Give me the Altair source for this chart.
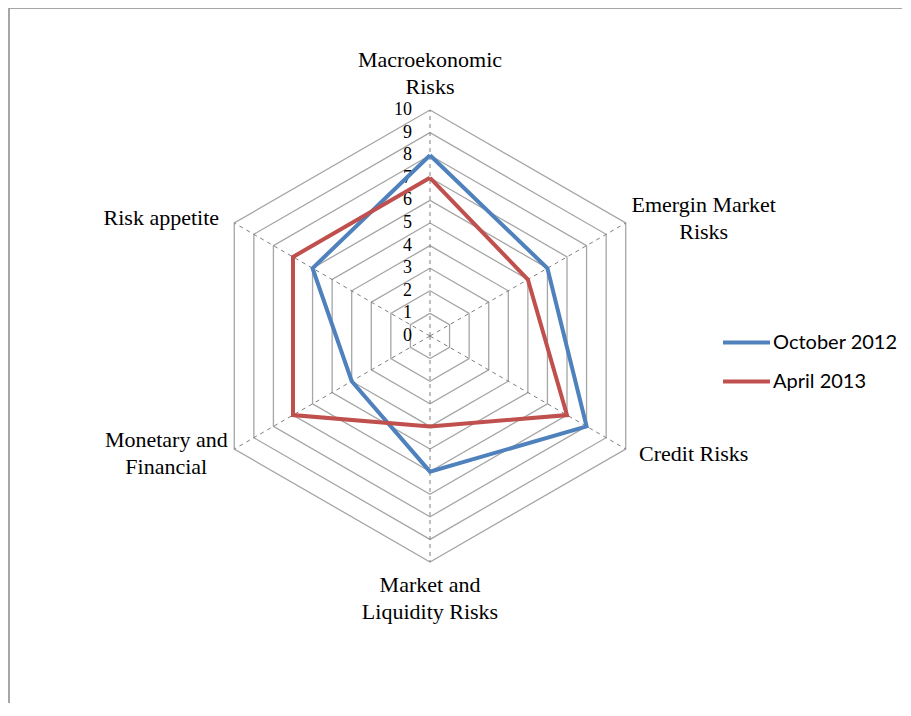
import altair as alt
import pandas as pd

# ---- data -------------------------------------------------------------
categories = [
    "Macroekonomic\nRisks",
    "Emergin Market\nRisks",
    "Credit Risks",
    "Market and\nLiquidity Risks",
    "Monetary and\nFinancial",
    "Risk appetite",
]
series_names = ["October 2012", "April 2013"]
october_2012 = [8, 6, 8, 6, 4, 6]
april_2013 = [7, 5, 7, 4, 7, 7]
tick_values = list(range(0, 11))
max_value = 10

# ---- layout / style -----------------------------------------------------
W, H = 894, 695
CX, CY = 422, 328          # centre of the radar inside the plot area (px)
U = 22.6                   # pixels per value unit
xdom = [-CX / U, (W - CX) / U]
ydom = [-(H - CY) / U, CY / U]
BLUE, RED = "#4F81BD", "#C0504D"
SERIF = "Liberation Serif"
LINE_H = 27

n = len(categories)
theta = f"(PI/2 - datum.idx*2*PI/{n})"

X = alt.X("x:Q", scale=alt.Scale(domain=xdom, nice=False, zero=False), axis=None)
Y = alt.Y("y:Q", scale=alt.Scale(domain=ydom, nice=False, zero=False), axis=None)

# series table (closed polygons)
rows = []
for name, vals in zip(series_names, [october_2012, april_2013]):
    for i in range(n + 1):
        rows.append({"series": name, "idx": i, "value": vals[i % n]})
series_df = pd.DataFrame(rows)

ring_df = pd.DataFrame(
    [{"level": lv, "idx": i} for lv in tick_values[1:] for i in range(n + 1)]
)
spoke_df = pd.DataFrame({"idx": list(range(n))})
tick_df = pd.DataFrame({"tick": tick_values})
label_df = pd.DataFrame({"label": categories, "idx": list(range(n))})

rings = (
    alt.Chart(ring_df)
    .transform_calculate(x=f"datum.level*cos({theta})", y=f"datum.level*sin({theta})")
    .mark_line(color="#a6a6a6", strokeWidth=1.3)
    .encode(x=X, y=Y, detail="level:N", order="idx:Q")
)

spokes = (
    alt.Chart(spoke_df)
    .transform_calculate(
        x="0", y="0",
        x2=f"{max_value}*cos({theta})", y2=f"{max_value}*sin({theta})",
    )
    .mark_rule(color="#7f7f7f", strokeDash=[4, 4], strokeWidth=1)
    .encode(x=X, y=Y, x2="x2:Q", y2="y2:Q")
)

ticks = (
    alt.Chart(tick_df)
    .transform_calculate(x="0", y="datum.tick")
    .mark_text(align="right", baseline="middle", dx=-18, font=SERIF, fontSize=18, color="#000000")
    .encode(x=X, y=Y, text="tick:Q")
)

series = (
    alt.Chart(series_df)
    .transform_calculate(x=f"datum.value*cos({theta})", y=f"datum.value*sin({theta})")
    .mark_line(strokeWidth=4, strokeJoin="miter")
    .encode(
        x=X, y=Y, order="idx:Q",
        color=alt.Color(
            "series:N",
            scale=alt.Scale(domain=series_names, range=[BLUE, RED]),
            legend=alt.Legend(
                title=None, orient="none", legendX=727, legendY=323,
                symbolType="M-2.5,0L2.5,0", symbolSize=353, symbolStrokeWidth=4,
                labelFont="Lato", labelFontSize=20, labelColor="#000000",
                labelOffset=15, rowPadding=17, padding=0,
            ),
        ),
    )
)

R, R2, GAP, CW, VGAP = 10, 10.4, 8 / U, 5 / U, 1.6
labels = (
    alt.Chart(label_df)
    .transform_calculate(
        cs=f"cos({theta})", sn=f"sin({theta})",
        maxlen="max(length(split(datum.label, '\\n')[0]), length(peek(split(datum.label, '\\n'))))",
        nlines="length(split(datum.label, '\\n'))",
    )
    .transform_calculate(
        x=f"abs(datum.cs) > 0.1 ? {R}*datum.cs + (datum.cs > 0 ? 1 : -1)*({GAP} + datum.maxlen*{CW}) : 0",
        y0=f"abs(datum.cs) > 0.1 ? {R2}*datum.sn : {R}*datum.sn + (datum.sn > 0 ? 1 : -1)*{VGAP}",
    )
    .transform_calculate(
        y=f"datum.y0 + (datum.nlines - 1)*{LINE_H / 2 / U}",
    )
    .mark_text(align="center", baseline="middle", font=SERIF, fontSize=22,
               lineBreak="\n", lineHeight=LINE_H, color="#000000")
    .encode(x=X, y=Y, text="label:N")
)

border_top = (
    alt.Chart(alt.Data(values=[{}]))
    .mark_rule(color="#a6a6a6", strokeWidth=2)
    .encode(x=alt.value(0), x2=alt.value(W), y=alt.value(0))
)
border_left = (
    alt.Chart(alt.Data(values=[{}]))
    .mark_rule(color="#a6a6a6", strokeWidth=2)
    .encode(x=alt.value(1), y=alt.value(0), y2=alt.value(H))
)

chart = (
    alt.layer(border_top, border_left, rings, spokes, ticks, series, labels)
    .properties(width=W, height=H, autosize=alt.AutoSizeParams(type="none"), padding=0,
                background="white")
    .configure_view(stroke=None)
)

chart.save("out.html", embed_options={"renderer": "svg", "actions": False})
